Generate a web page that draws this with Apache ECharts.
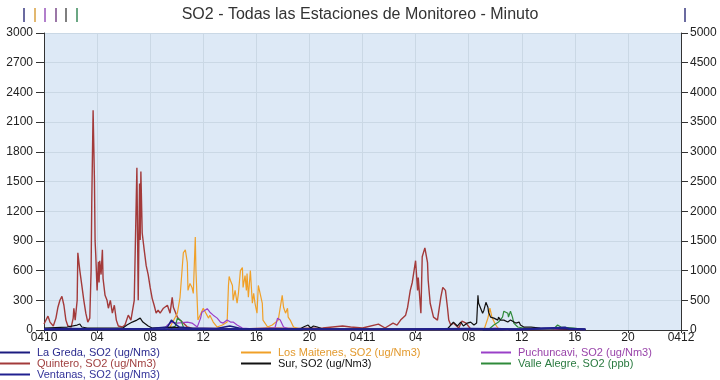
<!DOCTYPE html>
<html>
<head>
<meta charset="utf-8">
<script src="https://cdn.jsdelivr.net/npm/echarts@6/dist/echarts.min.js"></script>
<style>html,body{margin:0;padding:0;background:#fff;}#c{width:720px;height:380px;}</style>
</head>
<body>
<div id="c"></div>
<script>
// ---- data (x = hours since 04-10 00:00, y = SO2 value) ----
var dayLabels = ['0410', '0411', '0412'];
var leftTicks = [0, 300, 600, 900, 1200, 1500, 1800, 2100, 2400, 2700, 3000];
var rightTicks = [0, 500, 1000, 1500, 2000, 2500, 3000, 3500, 4000, 4500, 5000];

var seriesNames = [
  'La Greda, SO2 (ug/Nm3)', 'Los Maitenes, SO2 (ug/Nm3)', 'Puchuncavi, SO2 (ug/Nm3)',
  'Quintero, SO2 (ug/Nm3)', 'Sur, SO2 (ug/Nm3)', 'Valle Alegre, SO2 (ppb)',
  'Ventanas, SO2 (ug/Nm3)'
];

var quintero = [[0,60],[0.08,70],[0.3,140],[0.45,80],[0.7,40],[0.9,120],[1.05,230],[1.2,300],[1.35,340],[1.5,250],[1.65,100],[1.8,40],[2.05,30],[2.2,120],[2.25,220],[2.35,100],[2.5,300],[2.55,780],[2.7,600],[2.85,450],[3.0,300],[3.15,170],[3.3,80],[3.45,120],[3.55,600],[3.6,1300],[3.7,2220],[3.8,1520],[3.85,900],[3.9,760],[4.0,400],[4.1,690],[4.15,480],[4.2,700],[4.3,560],[4.4,810],[4.45,520],[4.6,350],[4.75,300],[4.85,220],[5.0,300],[5.15,170],[5.3,250],[5.45,100],[5.6,40],[5.9,30],[6.1,50],[6.35,150],[6.55,100],[6.8,300],[6.95,1310],[7.0,1640],[7.1,300],[7.2,1480],[7.25,910],[7.3,1600],[7.4,980],[7.55,810],[7.7,650],[7.85,560],[8.0,430],[8.15,320],[8.3,250],[8.45,170],[8.6,200],[8.75,170],[9.0,220],[9.3,250],[9.5,170],[9.66,330],[9.75,230],[9.9,180],[10.05,130],[10.25,100],[10.5,70],[10.8,30],[11.2,15],[13,15],[15,10],[17,20],[19,15],[21,20],[22.5,40],[23.1,30],[24,20],[25.2,60],[25.7,20],[26.3,70],[26.6,50],[26.87,100],[27.25,150],[27.4,230],[27.6,400],[27.75,480],[28.0,700],[28.15,400],[28.2,530],[28.4,170],[28.5,740],[28.7,830],[28.9,680],[28.95,500],[29.1,270],[29.35,130],[29.65,100],[29.9,330],[30.05,430],[30.1,450],[30.25,400],[30.4,230],[30.5,100],[30.65,50],[30.85,70],[31.25,20],[31.5,90],[31.8,70],[32.15,10],[34,5],[40.8,5]];

var losMaitenes = [[9.3,0],[9.5,30],[10.05,170],[10.25,330],[10.4,600],[10.5,780],[10.65,810],[10.8,680],[10.85,400],[11.0,470],[11.15,430],[11.25,370],[11.4,940],[11.45,600],[11.55,270],[11.6,100],[12.0,220],[12.4,120],[12.5,150],[12.75,80],[13.05,30],[13.45,50],[13.8,80],[13.9,450],[13.95,540],[14.05,500],[14.2,450],[14.25,300],[14.4,400],[14.55,270],[14.65,370],[14.8,600],[14.95,630],[15.0,430],[15.15,550],[15.25,400],[15.3,570],[15.4,330],[15.55,600],[15.7,270],[15.8,370],[15.9,270],[16.05,170],[16.15,450],[16.3,430],[16.45,270],[16.5,100],[16.85,30],[17.2,50],[17.65,100],[17.95,350],[18.05,230],[18.2,170],[18.35,220],[18.4,130],[18.55,100],[18.8,30],[19.3,10],[19.6,0],[33.0,0],[33.2,20],[33.45,120],[33.6,220],[33.75,130],[34.0,60],[34.2,20],[34.5,5],[35,0]];

var puchuncavi = [[0,5],[9.0,5],[9.3,50],[9.66,80],[10.05,70],[10.8,80],[11.15,70],[11.55,30],[11.8,120],[11.9,180],[12.0,200],[12.3,215],[12.5,180],[12.75,150],[13.05,120],[13.3,80],[13.5,70],[13.8,100],[14.05,80],[14.25,80],[14.55,50],[14.95,20],[16,10],[17.4,20],[17.6,120],[17.65,130],[17.8,100],[18.05,30],[18.5,10],[24,5],[33,10],[34,20],[35,10],[40.8,5]];

var sur = [[0,20],[1.75,30],[2.5,50],[2.7,60],[2.85,30],[3.25,20],[5.95,20],[6.25,50],[6.65,80],[7.0,100],[7.25,120],[7.45,80],[7.85,40],[8.15,20],[9.75,30],[10.5,20],[12,10],[19.3,10],[19.55,30],[19.9,50],[20.1,20],[20.3,40],[20.6,30],[21,10],[30.4,10],[30.65,50],[30.85,80],[31.15,40],[31.4,80],[31.6,40],[31.9,70],[32.15,80],[32.4,50],[32.6,70],[32.7,350],[32.75,270],[32.9,220],[33.05,170],[33.15,200],[33.3,280],[33.45,230],[33.5,180],[33.65,130],[33.9,120],[34.2,100],[34.25,130],[34.4,100],[34.65,100],[34.95,80],[35.15,100],[35.55,70],[35.8,80],[35.9,50],[36.15,30],[36.7,30],[37.4,20],[38.9,10],[40.8,5]];

var valleAlegre = [[0,5],[9.5,5],[9.9,40],[10.05,120],[10.2,130],[10.35,90],[10.5,30],[10.8,5],[33.5,5],[33.9,50],[34.25,80],[34.55,130],[34.65,190],[34.95,170],[35.0,130],[35.15,190],[35.3,130],[35.4,70],[35.7,30],[36.5,10],[38.4,10],[38.7,50],[38.95,30],[39.9,20],[40.8,5]];

var laGreda = [[0,10],[2,15],[5,10],[8,15],[9.3,30],[9.6,100],[9.75,120],[9.9,60],[10.2,30],[11,20],[13,15],[14,40],[15,10],[20,10],[24,10],[28,10],[32,15],[36,10],[38.5,20],[40.8,10]];

var ventanas = [[0,10],[12,15],[24,10],[36,10],[39.3,40],[39.6,15],[40.8,10]];

// ---- styles ----
var colors = {
  laGreda: '#1c1c80', losMaitenes: '#f0a028', puchuncavi: '#9a40c8',
  quintero: '#a33a3a', sur: '#111111', valleAlegre: '#2f8a3a', ventanas: '#202090'
};
var textColors = {
  laGreda: '#2b2b8f', losMaitenes: '#e39a2e', puchuncavi: '#9944aa',
  quintero: '#a04040', sur: '#111111', valleAlegre: '#2a7a40', ventanas: '#333399'
};
var legendLineColors = ['#1c1c80', '#f0a028', '#9a40c8', '#a33a3a', '#111111', '#2f8a3a', '#202090'];
var FONT = '"Liberation Sans", Arial, sans-serif';

function pad(n) { return (n < 10 ? '0' : '') + n; }
function xLabel(v) {
  if (v % 24 === 0) return dayLabels[v / 24];
  return pad(v % 24);
}
function plain(v) { return String(v); }

function line(name, data, color, width, yIdx, z) {
  return {
    name: name, type: 'line', data: data, yAxisIndex: yIdx || 0,
    symbol: 'none', showSymbol: false, z: z || 2,
    lineStyle: { color: color, width: width },
    itemStyle: { color: color }
  };
}

function legend(left, keys) {
  return {
    orient: 'vertical', left: left, top: 347, padding: 0, itemGap: 0,
    itemWidth: 30, itemHeight: 2, icon: 'rect',
    textStyle: { fontFamily: FONT, fontSize: 11, lineHeight: 11, padding: [0, 0, 0, 2] },
    data: keys.map(function (k) {
      return { name: seriesNames[k[0]], textStyle: { color: k[1] }, itemStyle: { color: legendLineColors[k[0]] } };
    })
  };
}

var chart = echarts.init(document.getElementById('c'), null, { renderer: 'canvas' });
var markXs = [24, 35, 45, 56, 66, 77];
var markColors = ['#3a3a80', '#d9a040', '#9955bb', '#7a4a8a', '#555555', '#3a8a5a'];
var graphics = markXs.map(function (x, i) {
  return { type: 'line', shape: { x1: x, y1: 8, x2: x, y2: 22 }, style: { stroke: markColors[i], lineWidth: 1.5 } };
});
graphics.push({ type: 'line', shape: { x1: 685, y1: 8, x2: 685, y2: 22 }, style: { stroke: '#3a3a80', lineWidth: 1.5 } });

chart.setOption({
  animation: false,
  backgroundColor: '#ffffff',
  textStyle: { fontFamily: FONT },
  title: {
    text: 'SO2 - Todas las Estaciones de Monitoreo - Minuto',
    left: 'center', top: 2,
    textStyle: { fontFamily: FONT, fontSize: 16, fontWeight: 'normal', color: '#333' }
  },
  graphic: graphics,
  grid: { left: 44, right: 39, top: 33, bottom: 50, show: true, backgroundColor: '#dde9f6', borderWidth: 0 },
  legend: [
    legend(0, [[0, textColors.laGreda], [3, textColors.quintero], [6, textColors.ventanas]]),
    legend(241, [[1, textColors.losMaitenes], [4, textColors.sur]]),
    legend(481, [[2, textColors.puchuncavi], [5, textColors.valleAlegre]])
  ],
  xAxis: {
    type: 'value', min: 0, max: 48, interval: 4,
    axisLine: { show: true, lineStyle: { color: '#333', width: 1 } },
    axisTick: { show: true, length: 3, lineStyle: { color: '#333' } },
    axisLabel: { formatter: xLabel, fontSize: 12, color: '#222', margin: 2, showMinLabel: true, showMaxLabel: true },
    splitLine: { show: true, lineStyle: { color: '#cad8e5', width: 1 } }
  },
  yAxis: [
    {
      type: 'value', min: leftTicks[0], max: leftTicks[leftTicks.length - 1], interval: leftTicks[1] - leftTicks[0],
      position: 'left',
      axisLine: { show: true, lineStyle: { color: '#333', width: 1 } },
      axisTick: { show: true, length: 8, lineStyle: { color: '#333' } },
      axisLabel: { fontSize: 12, color: '#222', margin: 11, formatter: plain },
      splitLine: { show: true, lineStyle: { color: '#cad8e5', width: 1 } }
    },
    {
      type: 'value', min: rightTicks[0], max: rightTicks[rightTicks.length - 1], interval: rightTicks[1] - rightTicks[0],
      position: 'right',
      axisLine: { show: true, lineStyle: { color: '#333', width: 1 } },
      axisTick: { show: true, length: 7, lineStyle: { color: '#333' } },
      axisLabel: { fontSize: 12, color: '#222', margin: 9, formatter: plain },
      splitLine: { show: false }
    }
  ],
  series: [
    line(seriesNames[3], quintero, colors.quintero, 1.4, 0, 2),
    line(seriesNames[1], losMaitenes, colors.losMaitenes, 1.2, 0, 3),
    line(seriesNames[2], puchuncavi, colors.puchuncavi, 1.2, 0, 4),
    line(seriesNames[5], valleAlegre, colors.valleAlegre, 1.2, 0, 5),
    line(seriesNames[4], sur, colors.sur, 1.2, 0, 6),
    line(seriesNames[0], laGreda, colors.laGreda, 1.5, 0, 7),
    line(seriesNames[6], ventanas, colors.ventanas, 2, 1, 8)
  ]
});
</script>
</body>
</html>
